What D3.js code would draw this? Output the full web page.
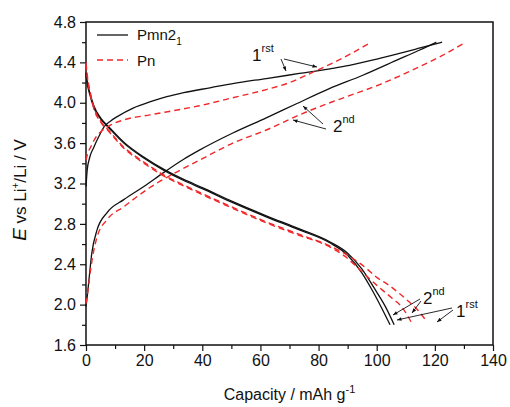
<!DOCTYPE html>
<html>
<head>
<meta charset="utf-8">
<script src="https://cdn.jsdelivr.net/npm/d3@7"></script>
<style>
  body { margin: 0; background: #fff; }
  text { font-family: Arial, "Liberation Sans", sans-serif; }
</style>
</head>
<body>
<svg id="chart" width="510" height="407"></svg>
<script>
// capacity (mAh/g), voltage (V)
const pmnCharge1 = [[0,3.17],[0.4,3.33],[1.2,3.45],[2.7,3.56],[4.5,3.67],[6.2,3.76],[8.5,3.82],[10.6,3.86],[16.4,3.95],[22.2,4.01],[27.8,4.06],[33.6,4.10],[43,4.15],[50.5,4.19],[62,4.24],[73.4,4.29],[84.8,4.34],[90.6,4.37],[101,4.44],[114.6,4.54],[122.5,4.60]];
const pmnCharge2 = [[0,1.98],[0.5,2.10],[1,2.24],[2,2.51],[3.8,2.74],[7.2,2.91],[13,3.04],[19.9,3.17],[26.8,3.31],[33.6,3.44],[39,3.53],[50.5,3.70],[62,3.85],[72.4,3.99],[83.7,4.14],[95,4.27],[106.7,4.42],[114.6,4.52],[120.5,4.60]];
const pmnDischarge1 = [[0,4.30],[0.5,4.20],[1.5,4.08],[2.7,3.97],[5,3.85],[7.9,3.76],[13,3.61],[20,3.46],[26.8,3.34],[33.6,3.24],[40,3.16],[50.5,3.02],[62,2.88],[73.4,2.75],[84,2.62],[90,2.51],[95,2.35],[99,2.17],[103,1.98],[106,1.80]];
const pmnDischarge2 = [[0,4.28],[0.5,4.18],[1.5,4.06],[2.7,3.95],[5,3.84],[7.9,3.75],[13,3.60],[20,3.45],[26.8,3.33],[33.6,3.23],[40,3.15],[50.5,3.01],[62,2.87],[73.4,2.74],[84,2.61],[90,2.49],[95,2.31],[98.5,2.14],[102,1.95],[104.6,1.80]];
const pnCharge1 = [[0,3.43],[0.6,3.50],[1.6,3.56],[3,3.64],[5,3.71],[8.5,3.78],[13,3.83],[22,3.88],[33.6,3.94],[39,3.97],[50.5,4.05],[62,4.13],[70,4.20],[78.6,4.31],[86,4.41],[92,4.50],[97.5,4.59]];
const pnCharge2 = [[0,2.01],[0.8,2.17],[1.7,2.37],[3.8,2.67],[7.2,2.84],[13,2.97],[22,3.16],[29,3.28],[39,3.43],[50.5,3.60],[62,3.73],[73.4,3.88],[84.8,4.01],[90.6,4.07],[101,4.18],[112,4.32],[122,4.46],[130.7,4.60]];
const pnDischarge1 = [[0,4.40],[0.5,4.26],[1.5,4.10],[2.7,3.96],[5,3.82],[8,3.72],[13,3.56],[20,3.41],[27,3.28],[34,3.18],[40,3.10],[50,2.97],[62,2.82],[73,2.70],[84,2.58],[90,2.49],[96.4,2.36],[100,2.27],[104.3,2.19],[107.8,2.11],[111,2.03],[114,1.95],[116.5,1.86]];
const pnDischarge2 = [[0,4.38],[0.5,4.24],[1.5,4.08],[2.7,3.94],[5,3.81],[8,3.71],[13,3.55],[20,3.40],[27,3.27],[34,3.17],[40,3.09],[50,2.96],[62,2.81],[73,2.69],[84,2.57],[89,2.48],[93,2.38],[97,2.27],[100.9,2.17],[105,2.07],[108.8,1.97],[112,1.82]];

const xTicks = [0, 20, 40, 60, 80, 100, 120, 140];
const yTicks = [1.6, 2.0, 2.4, 2.8, 3.2, 3.6, 4.0, 4.4, 4.8];

const svg = d3.select("#chart");
const margin = {left: 86, right: 17, top: 22, bottom: 62};
const width = 510, height = 407;

const x = d3.scaleLinear().domain([0, 140]).range([margin.left, width - margin.right]);
const y = d3.scaleLinear().domain([1.6, 4.8]).range([height - margin.bottom, margin.top]);

// minor ticks
svg.append("g")
    .attr("transform", `translate(0,${y(1.6)})`)
    .call(d3.axisBottom(x).tickValues(d3.range(10, 140, 20)).tickSize(4).tickFormat(""))
    .call(g => g.select(".domain").remove());
svg.append("g")
    .attr("transform", `translate(${x(0)},0)`)
    .call(d3.axisLeft(y).tickValues(d3.range(1.8, 4.8, 0.4)).tickSize(4).tickFormat(""))
    .call(g => g.select(".domain").remove());

// major ticks
svg.append("g")
    .attr("transform", `translate(0,${y(1.6)})`)
    .call(d3.axisBottom(x).tickValues(xTicks).tickSize(6).tickPadding(4).tickFormat(d3.format("d")))
    .call(g => g.select(".domain").remove())
    .call(g => g.selectAll("text").attr("font-size", 16).attr("fill", "#111"));
svg.append("g")
    .attr("transform", `translate(${x(0)},0)`)
    .call(d3.axisLeft(y).tickValues(yTicks).tickSize(6).tickPadding(4).tickFormat(d3.format(".1f")))
    .call(g => g.select(".domain").remove())
    .call(g => g.selectAll("text").attr("font-size", 16).attr("fill", "#111"));

svg.selectAll(".tick line").attr("stroke", "#111").attr("stroke-width", 1.2);

// frame
svg.append("rect")
    .attr("x", x(0)).attr("y", y(4.8))
    .attr("width", x(140) - x(0)).attr("height", y(1.6) - y(4.8))
    .attr("fill", "none").attr("stroke", "#111").attr("stroke-width", 1.5);

const line = d3.line()
    .x(d => x(d[0]))
    .y(d => y(d[1]))
    .curve(d3.curveMonotoneX);

const plot = svg.append("g");
[pmnCharge1, pmnCharge2, pmnDischarge1, pmnDischarge2].forEach(s => {
    plot.append("path").datum(s).attr("d", line)
        .attr("fill", "none").attr("stroke", "#111").attr("stroke-width", 1.3);
});
[pnCharge1, pnCharge2, pnDischarge1, pnDischarge2].forEach(s => {
    plot.append("path").datum(s).attr("d", line)
        .attr("fill", "none").attr("stroke", "#f0282a").attr("stroke-width", 1.4)
        .attr("stroke-dasharray", "6,4");
});

// legend
svg.append("line").attr("x1", 97).attr("x2", 128).attr("y1", 35).attr("y2", 35)
    .attr("stroke", "#111").attr("stroke-width", 1.3);
svg.append("line").attr("x1", 97).attr("x2", 128).attr("y1", 60).attr("y2", 60)
    .attr("stroke", "#f0282a").attr("stroke-width", 1.4).attr("stroke-dasharray", "6,4");
const lg1 = svg.append("text").attr("x", 137).attr("y", 40).attr("font-size", 15).attr("fill", "#111");
lg1.append("tspan").text("Pmn2");
lg1.append("tspan").attr("font-size", 10).attr("dy", 5).text("1");
svg.append("text").attr("x", 137).attr("y", 66).attr("font-size", 15).attr("fill", "#111").text("Pn");

// annotations
svg.append("defs").append("marker")
    .attr("id", "arr").attr("viewBox", "0 0 10 10").attr("refX", 10).attr("refY", 5)
    .attr("markerWidth", 7).attr("markerHeight", 5).attr("orient", "auto")
    .append("path").attr("d", "M0,1L10,5L0,9Z").attr("fill", "#111");

const label = (lx, ly, main, sup) => {
    const t = svg.append("text").attr("x", lx).attr("y", ly).attr("font-size", 17).attr("fill", "#111");
    t.append("tspan").text(main);
    t.append("tspan").attr("font-size", 11).attr("dy", -9).text(sup);
};
const arrow = (x1, y1, x2, y2) => {
    svg.append("line").attr("x1", x1).attr("y1", y1).attr("x2", x2).attr("y2", y2)
        .attr("stroke", "#111").attr("stroke-width", 0.9).attr("marker-end", "url(#arr)");
};

label(252, 61, "1", "rst");
arrow(281, 59, 286, 71);
arrow(284, 59, 317, 67);

label(333, 132, "2", "nd");
arrow(326, 129, 293, 120);
arrow(323, 124, 303, 106);

label(423, 304, "2", "nd");
arrow(420, 299, 393, 315);
arrow(421, 301, 412, 313);

label(456, 317, "1", "rst");
arrow(452, 308, 397, 320);
arrow(453, 310, 437, 322);

// axis titles
const xt = svg.append("text").attr("x", x(70)).attr("y", 400).attr("text-anchor", "middle")
    .attr("font-size", 16).attr("fill", "#111");
xt.append("tspan").text("Capacity / mAh g");
xt.append("tspan").attr("font-size", 11).attr("dy", -7).text("-1");

const yt = svg.append("text").attr("transform", "translate(26,190) rotate(-90)")
    .attr("text-anchor", "middle").attr("font-size", 17).attr("fill", "#111");
yt.append("tspan").attr("font-style", "italic").attr("font-size", 19).text("E");
yt.append("tspan").text(" vs Li");
yt.append("tspan").attr("font-size", 10).attr("dy", -7).text("+");
yt.append("tspan").attr("dy", 7).text("/Li / V");
</script>
</body>
</html>
